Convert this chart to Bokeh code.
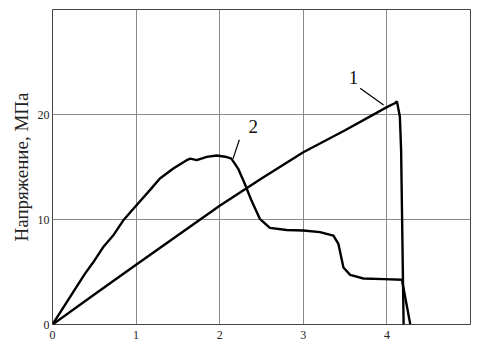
from bokeh.plotting import figure
from bokeh.models import Range1d, FixedTicker, Label, ColumnDataSource
from bokeh.embed import file_html
from bokeh.resources import INLINE

# Curve 1
x1 = [0, 0.5, 1.0, 1.5, 2.0, 2.5, 3.0, 3.5, 4.0, 4.1, 4.12, 4.155, 4.17, 4.2]
y1 = [0, 2.85, 5.7, 8.5, 11.3, 13.9, 16.4, 18.5, 20.7, 21.1, 21.25, 19.8, 16.6, 0]

# Curve 2
x2 = [0, 0.205, 0.385, 0.485, 0.605, 0.725, 0.845, 0.965, 1.165, 1.285, 1.445,
      1.605, 1.65, 1.725, 1.845, 1.965, 2.085, 2.14, 2.22, 2.30, 2.38, 2.48,
      2.60, 2.80, 3.0, 3.20, 3.36, 3.42, 3.48, 3.56, 3.72, 3.96, 4.18, 4.28]
y2 = [0, 2.56, 4.8, 5.9, 7.35, 8.47, 9.9, 11.0, 12.8, 13.9, 14.85,
      15.65, 15.8, 15.65, 15.96, 16.1, 15.95, 15.8, 14.85, 13.4, 11.8, 10.07,
      9.2, 9.0, 8.95, 8.8, 8.47, 7.67, 5.43, 4.73, 4.38, 4.32, 4.26, 0]

x_ticks = [0, 1, 2, 3, 4]
y_ticks = [0, 10, 20]

# annotations: label positions and leader lines
labels_txt = ["1", "2"]
labels_x = [3.6, 2.40]
labels_y = [23.5, 18.9]
lead_x0 = [3.68, 2.235]
lead_y0 = [22.5, 17.6]
lead_x1 = [3.96, 2.16]
lead_y1 = [20.9, 15.8]

FONT = "Liberation Serif"

p = figure(width=477, height=344, output_backend="svg", toolbar_location=None,
           x_range=Range1d(0, 5), y_range=Range1d(0, 30),
           min_border_left=52, min_border_top=9, min_border_right=7,
           min_border_bottom=20)
p.background_fill_color = "white"
p.border_fill_color = "white"
p.outline_line_color = "#444444"
p.outline_line_width = 1
p.outline_line_alpha = 1.0

for ax in (p.xaxis, p.yaxis):
    ax.axis_line_color = None
    ax.major_tick_line_color = None
    ax.minor_tick_line_color = None
    ax.major_tick_out = 0
    ax.major_tick_in = 0
    ax.minor_tick_out = 0
    ax.minor_tick_in = 0
    ax.major_label_text_font = FONT
    ax.major_label_text_font_size = "12px"
    ax.major_label_text_color = "#222222"

p.xaxis.ticker = FixedTicker(ticks=x_ticks)
p.yaxis.ticker = FixedTicker(ticks=y_ticks)
p.xaxis.major_label_standoff = 6
p.yaxis.major_label_standoff = 3

p.yaxis.axis_label = "Напряжение, МПа"
p.yaxis.axis_label_text_font = FONT
p.yaxis.axis_label_text_font_size = "19px"
p.yaxis.axis_label_text_font_style = "normal"
p.yaxis.axis_label_text_color = "#222222"
p.yaxis.axis_label_standoff = 3

p.xgrid.ticker = FixedTicker(ticks=[1, 2, 3, 4])
p.ygrid.ticker = FixedTicker(ticks=[10, 20])
p.grid.grid_line_color = "#8a8a8a"
p.grid.grid_line_width = 1

p.line(x1, y1, line_color="black", line_width=2.4)
p.line(x2, y2, line_color="black", line_width=2.4)

src = ColumnDataSource(dict(x0=lead_x0, y0=lead_y0, x1=lead_x1, y1=lead_y1))
p.segment(x0="x0", y0="y0", x1="x1", y1="y1", source=src,
          line_color="black", line_width=1.2)

for t, lx, ly in zip(labels_txt, labels_x, labels_y):
    p.add_layout(Label(x=lx, y=ly, text=t, text_font=FONT,
                       text_font_size="19px", text_color="#111111",
                       text_align="center", text_baseline="middle"))

open("out.html", "w").write(file_html(p, INLINE))
